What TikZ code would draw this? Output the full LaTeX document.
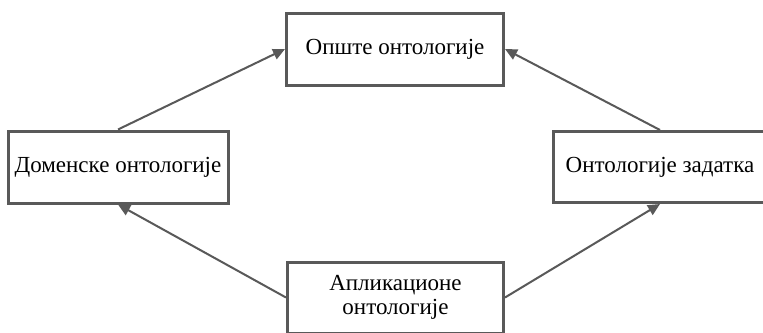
\documentclass[tikz,border=0pt]{standalone}
\usepackage{fontspec}
\setmainfont{Liberation Serif}
\usetikzlibrary{arrows.meta}
\definecolor{linegray}{HTML}{595959}
\begin{document}
\begin{tikzpicture}[x=1pt,y=-1pt,
  onto/.style={draw=linegray, line width=3pt, fill=white, rectangle,
    inner sep=0pt, align=center, font=\fontsize{23}{24.5}\selectfont},
  link/.style={draw=linegray, line width=2pt,
    -{Triangle[length=12pt,width=11pt]}}]
  \useasboundingbox (0,0) rectangle (763,332);
  \clip (0,0) rectangle (763,332);
  \fill[white] (0,0) rectangle (763,332);
  % ontology levels
  \node[onto, minimum width=217pt, minimum height=72pt] (general) at (395,49) {Опште онтологије};
  \node[onto, minimum width=220pt, minimum height=72pt] (domain) at (118,167) {Доменске онтологије};
  \node[onto, minimum width=214pt, minimum height=71pt] (task) at (660,167) {Онтологије задатка};
  \node[onto, minimum width=216pt, minimum height=71pt] (app) at (395.5,297.5) {Апликационе\\онтологије};
  % specialisation links
  \draw[link] (domain.north) -- (general.west);
  \draw[link] (task.north) -- (general.east);
  \draw[link] (app.west) -- (domain.south);
  \draw[link] (app.east) -- (task.south);
\end{tikzpicture}
\end{document}
